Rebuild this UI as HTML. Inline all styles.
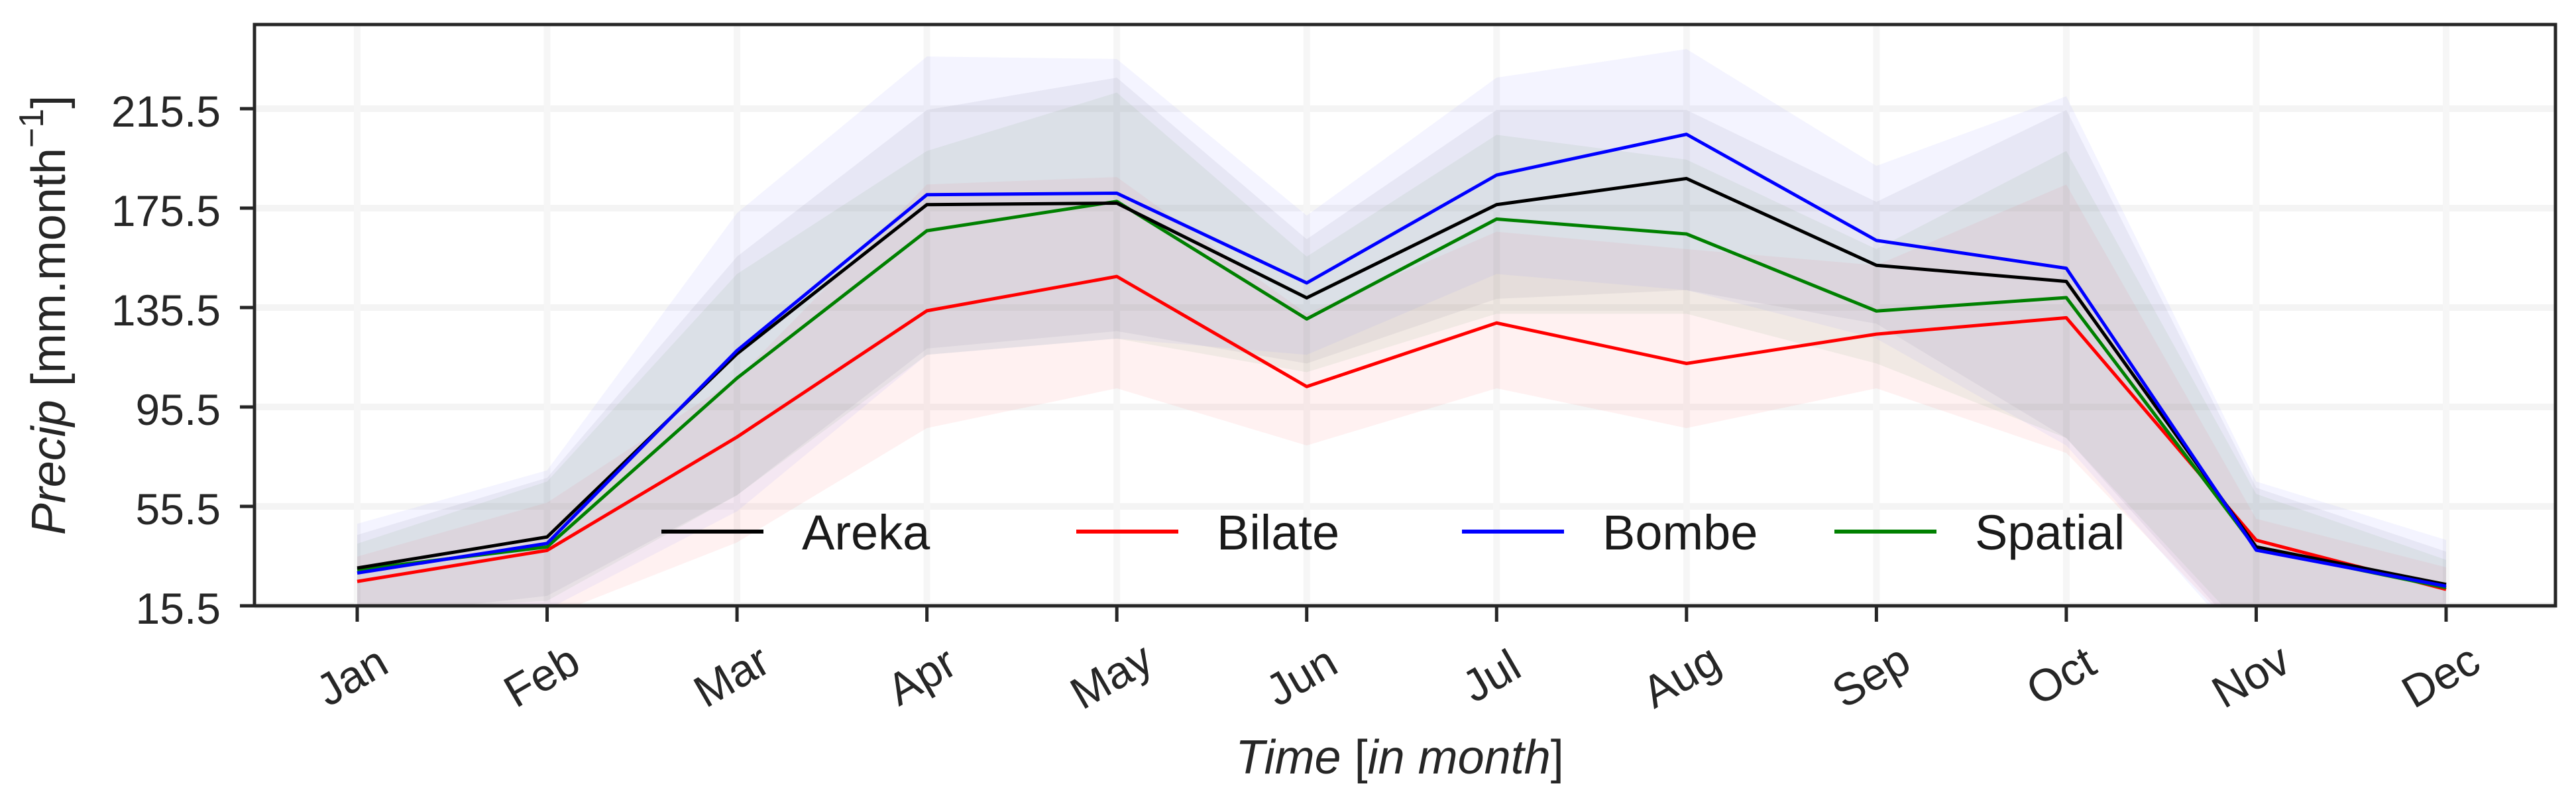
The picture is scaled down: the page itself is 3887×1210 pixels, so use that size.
<!DOCTYPE html>
<html><head><meta charset="utf-8"><style>
html,body{margin:0;padding:0;background:#fff;}
svg{display:block;font-family:"Liberation Sans","DejaVu Sans",sans-serif;}
</style></head><body>
<svg id="chart" width="3887" height="1210" viewBox="0 0 3887 1210" xmlns="http://www.w3.org/2000/svg"></svg>
<script>
const months = ["Jan","Feb","Mar","Apr","May","Jun","Jul","Aug","Sep","Oct","Nov","Dec"];
const yTicks = [15.5,55.5,95.5,135.5,175.5,215.5];
const seriesNames = ["Areka","Bilate","Bombe","Spatial"];
const seriesColors = ["#000000","#ff0000","#0000ff","#008000"];
const arekaMean = [30.7,43.2,116.9,176.9,177.5,139.4,176.9,187.4,152.5,146,39.2,24.1];
const bilateMean = [25.3,37.8,83.4,134.2,148,103.7,129.3,113,124.8,131.4,41.9,22.1];
const bombeMean = [28.7,40.6,118.2,180.9,181.5,145.4,188.8,205.2,162.5,151.3,37.9,23.4];
const spatialMean = [30,39.2,107.1,166.4,178.2,130.9,171.1,165.1,134.1,139.5,38.5,22.8];
const arekaUpper = [44,67,156,215,228,163,215,215,178,215,63,37.3];
const arekaLower = [11,19.5,60,119,126,113,139,142.5,129,83,-2.6,7];
const bilateUpper = [35.3,57,107,185,188,133,166,159,152.5,185,50.5,31];
const bilateLower = [7,11,41,87,103,80,103,87,103,77,-2.6,7];
const bombeUpper = [48.5,70,173.5,236.5,235.5,172.5,228,239.5,192.5,220.5,65.5,42];
const bombeLower = [-5,14,53.5,116.5,123,116.5,149,142.5,123,80,-6,4];
const spatialUpper = [40.5,65.5,149,198.5,222,156,205,195,159,198.5,60.5,34];
const spatialLower = [13,17.5,60,116.5,123,109.5,133,133,113,83,1,9];

const L=384,R=3856,T=37,B=914;
const yMin=15.5, yMax=15.5+(B-T)/3.75;
const x0=539, x11=3691;
const xs = i => x0 + i*(x11-x0)/11;
const ys = v => B - (v-yMin)*(B-T)/(yMax-yMin);
const NS="http://www.w3.org/2000/svg";
const svg=document.getElementById('chart');
function mk(tag, attrs, parent){const e=document.createElementNS(NS,tag);for(const k in attrs)e.setAttribute(k,attrs[k]);(parent||svg).appendChild(e);return e;}

const defs=mk('defs',{});
const cp=mk('clipPath',{id:'plotclip'},defs);
mk('rect',{x:L,y:T,width:R-L,height:B-T},cp);

yTicks.forEach(v=>{const g=mk('line',{x1:L,x2:R,y1:ys(v),y2:ys(v),stroke:'#f4f4f4','stroke-width':10});

});
months.forEach((m,i)=>{const g=mk('line',{x1:xs(i),x2:xs(i),y1:T,y2:B,stroke:'#f6f6f6','stroke-width':10});

});

const plot=mk('g',{'clip-path':'url(#plotclip)'});


const means=[arekaMean,bilateMean,bombeMean,spatialMean];
const uppers=[arekaUpper,bilateUpper,bombeUpper,spatialUpper];
const lowers=[arekaLower,bilateLower,bombeLower,spatialLower];
const bandColors=["#606080","#ff6060","#8080ff","#60a060"];
for(let s=0;s<4;s++){
  let d='';
  uppers[s].forEach((v,i)=>{d+=(i?'L':'M')+xs(i)+' '+ys(v)+' ';});
  for(let i=11;i>=0;i--){d+='L'+xs(i)+' '+ys(lowers[s][i])+' ';}
  d+='Z';
  const p=mk('path',{d:d,fill:bandColors[s],'fill-opacity':0.09},plot);
  
  
}
const order=[1,3,0,2];
order.forEach(s=>{
  const pts=means[s].map((v,i)=>xs(i)+','+ys(v)).join(' ');
  const pl=mk('polyline',{points:pts,fill:'none',stroke:seriesColors[s],'stroke-width':5,'stroke-linejoin':'round'},plot);
  
  
});

const fr=mk('rect',{x:L,y:T,width:R-L,height:B-T,fill:'none',stroke:'#262626','stroke-width':5});



yTicks.forEach(v=>{
  const y=ys(v);
  mk('line',{x1:L-22,x2:L,y1:y,y2:y,stroke:'#262626','stroke-width':5});
  const t=mk('text',{x:333,y:y+4,'text-anchor':'end','dominant-baseline':'central','font-size':66,fill:'#262626'});
  t.textContent=v.toFixed(1);
  
  
});
months.forEach((m,i)=>{
  const x=xs(i);
  mk('line',{x1:x,x2:x,y1:B,y2:B+24,stroke:'#262626','stroke-width':5});
  const cx=x-8, cy=1020;
  const t=mk('text',{x:cx,y:cy,'text-anchor':'middle','dominant-baseline':'central','font-size':68,fill:'#262626',transform:'rotate(-30 '+cx+' '+cy+')'});
  t.textContent=m;
  
  
});

const yt=mk('text',{x:0,y:0,'text-anchor':'middle','dominant-baseline':'central','font-size':72,fill:'#262626',transform:'translate(74 '+((T+B)/2)+') rotate(-90)'});
yt.innerHTML='<tspan font-style="italic">Precip</tspan> [mm.month<tspan dy="-26" font-size="52">−1</tspan><tspan dy="26">]</tspan>';


const xt=mk('text',{x:2112,y:1143,'text-anchor':'middle','dominant-baseline':'central','font-size':72,fill:'#262626'});
xt.innerHTML='<tspan font-style="italic">Time</tspan> [<tspan font-style="italic">in month</tspan>]';



const legX=[998,1624,2206,2768];
const legend=mk('g',{});


seriesNames.forEach((n,s)=>{
  const g=mk('g',{},legend);
  
  
  mk('line',{x1:legX[s],x2:legX[s]+154,y1:802,y2:802,stroke:seriesColors[s],'stroke-width':6},g);
  const t=mk('text',{x:legX[s]+212,y:829,'font-size':74,fill:'#1a1a1a'},g);
  t.textContent=n;
});
</script>
</body></html>
